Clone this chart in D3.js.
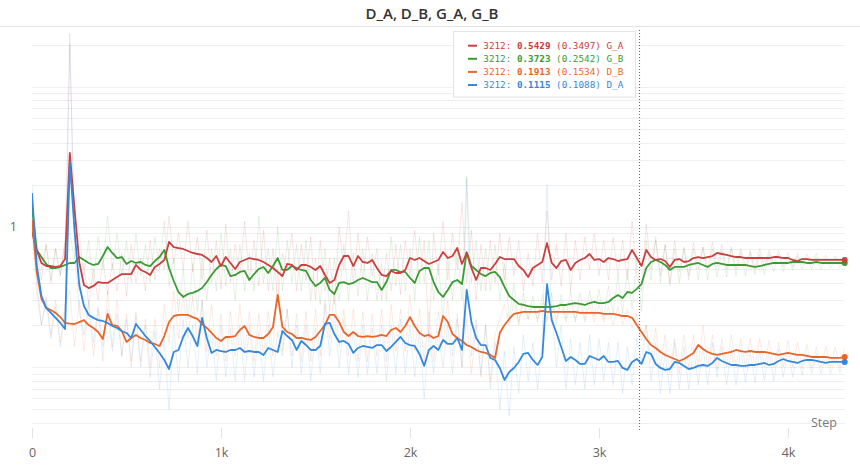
<!DOCTYPE html>
<html><head><meta charset="utf-8">
<script src="https://cdn.jsdelivr.net/npm/d3@7"></script>
<style>
html,body{margin:0;padding:0;background:#fff;}
svg{display:block;}
</style></head>
<body>
<svg id="chart" width="860" height="467"></svg>
<script>
// ---------- DATA ----------
const title = "D_A, D_B, G_A, G_B";
const seriesNames = ["G_A", "G_B", "D_B", "D_A"];
const seriesColors = ["#c9403e", "#3a9a34", "#e8662a", "#3489dc"];
const hoverStep = 3212;
const hoverSmooth = ["0.5429", "0.3723", "0.1913", "0.1115"];
const hoverRaw = ["0.3497", "0.2542", "0.1534", "0.1088"];
const xTickValues = [0, 1000, 2000, 3000, 4000];
const xTickLabels = ["0", "1k", "2k", "3k", "4k"];
const yTickValues = [1];
const yTickLabels = ["1"];
const yGridValues = [0.04,0.05,0.06,0.07,0.08,0.09,0.1,0.2,0.3,0.4,0.5,0.6,0.7,0.8,0.9,1,2,3,4,5,6,7,8,9,10,20];

// one value every 25 steps (0 .. 4300)
const steps = d3.range(0, 4301, 25);

// smoothed series
const gA_smooth = [
0.921,0.686,0.554,0.527,0.527,0.519,0.527,0.591,3.37,1.35,
0.563,0.386,0.367,0.380,0.405,0.399,0.399,0.419,0.440,0.462,
0.462,0.462,0.536,0.494,0.478,0.455,0.519,0.545,0.582,0.782,
0.720,0.708,0.697,0.674,0.653,0.642,0.632,0.601,0.563,0.621,
0.527,0.611,0.554,0.502,0.563,0.582,0.601,0.591,0.582,0.563,
0.536,0.510,0.478,0.447,0.545,0.536,0.494,0.536,0.536,0.519,
0.494,0.527,0.455,0.399,0.419,0.536,0.621,0.621,0.527,0.621,
0.563,0.554,0.582,0.510,0.455,0.447,0.486,0.470,0.470,0.494,
0.601,0.582,0.601,0.572,0.545,0.563,0.582,0.663,0.601,0.621,
0.708,0.545,0.653,0.510,0.419,0.510,0.510,0.494,0.545,0.611,
0.591,0.591,0.591,0.527,0.494,0.440,0.510,0.536,0.563,0.769,
0.554,0.510,0.572,0.582,0.494,0.554,0.582,0.601,0.642,0.582,
0.591,0.563,0.601,0.591,0.572,0.582,0.591,0.686,0.601,0.527,
0.686,0.611,0.582,0.591,0.572,0.519,0.582,0.591,0.563,0.572,
0.601,0.611,0.601,0.611,0.621,0.653,0.642,0.632,0.621,0.611,
0.611,0.601,0.601,0.601,0.601,0.601,0.601,0.611,0.611,0.601,
0.601,0.582,0.572,0.591,0.591,0.582,0.582,0.582,0.582,0.582,
0.582,0.582,0.582];
const gB_smooth = [
1.389,0.686,0.611,0.545,0.510,0.510,0.519,0.536,0.554,0.554,
0.611,0.582,0.554,0.536,0.545,0.621,0.720,0.653,0.601,0.611,
0.545,0.572,0.554,0.563,0.536,0.527,0.572,0.611,0.686,0.510,
0.412,0.344,0.317,0.333,0.339,0.350,0.367,0.405,0.455,0.502,
0.536,0.527,0.447,0.455,0.478,0.486,0.419,0.462,0.502,0.519,
0.470,0.527,0.601,0.494,0.494,0.527,0.510,0.494,0.486,0.419,
0.380,0.399,0.433,0.356,0.333,0.399,0.405,0.392,0.399,0.419,
0.433,0.419,0.405,0.405,0.356,0.405,0.494,0.494,0.478,0.478,
0.433,0.399,0.486,0.510,0.510,0.405,0.344,0.317,0.356,0.405,
0.419,0.392,0.663,0.527,0.494,0.462,0.447,0.470,0.478,0.440,
0.374,0.322,0.302,0.283,0.278,0.273,0.269,0.269,0.269,0.269,
0.269,0.273,0.278,0.278,0.283,0.287,0.283,0.278,0.287,0.292,
0.287,0.287,0.292,0.312,0.328,0.312,0.344,0.339,0.362,0.392,
0.510,0.563,0.582,0.563,0.536,0.494,0.519,0.519,0.519,0.536,
0.545,0.554,0.536,0.519,0.545,0.554,0.545,0.536,0.536,0.536,
0.536,0.536,0.527,0.519,0.527,0.536,0.545,0.554,0.554,0.554,
0.554,0.563,0.563,0.563,0.554,0.554,0.563,0.554,0.554,0.554,
0.554,0.554,0.554];
const dB_smooth = [
1.122,0.478,0.307,0.265,0.256,0.244,0.228,0.207,0.205,0.2035,
0.210,0.217,0.200,0.1906,0.1785,0.159,0.240,0.200,0.197,0.1814,
0.1515,0.1617,0.170,0.1617,0.1565,0.149,0.1466,0.1418,0.167,0.210,
0.232,0.236,0.236,0.236,0.228,0.221,0.2035,0.1906,0.1756,0.1617,
0.154,0.1644,0.1644,0.167,0.1845,0.197,0.170,0.1644,0.1617,0.1617,
0.1727,0.194,0.328,0.194,0.1785,0.1727,0.1617,0.1617,0.159,0.1565,
0.1644,0.1814,0.200,0.236,0.236,0.210,0.1785,0.167,0.1785,0.167,
0.1644,0.167,0.1644,0.167,0.170,0.167,0.1845,0.1906,0.1785,0.197,
0.228,0.197,0.1756,0.167,0.170,0.1617,0.167,0.232,0.210,0.1727,
0.1617,0.154,0.144,0.1395,0.1328,0.1285,0.1265,0.1224,0.1165,0.1756,
0.200,0.221,0.240,0.244,0.248,0.248,0.248,0.248,0.252,0.248,
0.248,0.248,0.248,0.248,0.248,0.248,0.244,0.244,0.244,0.244,
0.244,0.240,0.240,0.240,0.236,0.232,0.232,0.225,0.200,0.1785,
0.159,0.144,0.1373,0.1285,0.1224,0.1184,0.1146,0.1109,0.1146,0.1204,
0.1265,0.144,0.135,0.1285,0.1245,0.1224,0.1245,0.1265,0.1285,0.1328,
0.1306,0.1285,0.1306,0.1285,0.1285,0.1285,0.1265,0.1245,0.1224,0.1245,
0.1265,0.1245,0.1224,0.1224,0.1204,0.1184,0.1184,0.1184,0.1184,0.1165,
0.1165,0.1165,0.1184];
const dA_smooth = [
1.747,0.536,0.322,0.265,0.244,0.225,0.207,0.1875,2.906,0.95,
0.386,0.2735,0.236,0.225,0.217,0.2138,0.207,0.197,0.1906,0.1814,
0.1756,0.1617,0.2035,0.1845,0.167,0.154,0.1395,0.1265,0.1127,0.0972,
0.1285,0.1328,0.1644,0.1906,0.167,0.1418,0.225,0.1617,0.1265,0.1328,
0.1306,0.1285,0.1328,0.1328,0.1373,0.1285,0.1306,0.1285,0.1285,0.1224,
0.1373,0.1328,0.1285,0.1814,0.167,0.1565,0.1328,0.154,0.144,0.1328,
0.1328,0.1418,0.2035,0.207,0.1727,0.1515,0.154,0.1466,0.1265,0.1373,
0.1418,0.1395,0.1373,0.144,0.144,0.1306,0.1395,0.1515,0.1644,0.149,
0.144,0.1418,0.1245,0.1022,0.1328,0.1418,0.1328,0.1565,0.1466,0.1466,
0.1617,0.1328,0.356,0.210,0.1617,0.144,0.144,0.1165,0.1127,0.0989,
0.0812,0.0926,0.0989,0.1091,0.1245,0.1265,0.1127,0.1038,0.1184,0.392,
0.217,0.1756,0.1395,0.1109,0.1184,0.1127,0.1056,0.1056,0.1204,0.1165,
0.1127,0.1204,0.1091,0.1091,0.1109,0.0989,0.0957,0.1091,0.1146,0.1056,
0.1285,0.1245,0.1056,0.0989,0.0957,0.0972,0.1091,0.1073,0.1022,0.0972,
0.0989,0.1022,0.1038,0.1022,0.1073,0.1165,0.1109,0.1073,0.1038,0.1038,
0.1022,0.1022,0.1038,0.1038,0.1056,0.1073,0.1038,0.1056,0.1109,0.1146,
0.1109,0.1091,0.1073,0.1109,0.1127,0.1127,0.1109,0.1091,0.1073,0.1091,
0.1091,0.1091,0.1091];

// raw (unsmoothed) series
const gA_raw = [
1.3,0.7,0.42,0.75,0.4,0.7,0.45,0.8,20,0.9,
0.35,0.55,0.28,0.5,0.3,0.6,0.33,0.55,0.35,0.65,
0.32,0.75,0.4,0.6,0.35,0.8,0.42,0.7,0.5,1.2,
0.55,0.9,0.5,1.1,0.48,0.85,0.42,0.95,0.4,0.8,
0.36,1.05,0.4,0.75,0.45,1.1,0.42,0.8,0.38,0.95,
0.35,0.7,0.3,0.65,0.5,0.9,0.35,0.75,0.42,0.85,
0.3,0.8,0.35,0.6,0.28,1.0,0.5,1.3,0.4,0.9,
0.42,0.85,0.45,0.7,0.3,0.65,0.35,0.75,0.33,0.8,
0.45,0.95,0.4,0.8,0.16,0.9,0.45,1.1,0.42,0.9,
0.5,1.5,0.4,0.95,0.3,0.75,0.35,0.8,0.4,0.9,
0.42,0.85,0.45,0.8,0.35,0.65,0.38,0.9,0.4,1.3,
0.42,0.75,0.38,0.9,0.35,0.8,0.42,0.85,0.5,0.9,
0.45,0.8,0.42,0.85,0.45,0.8,0.42,1.1,0.45,0.35,
1.05,0.5,0.8,0.45,0.75,0.4,0.8,0.48,0.7,0.45,
0.78,0.5,0.72,0.5,0.78,0.52,0.75,0.5,0.72,0.5,
0.7,0.52,0.68,0.5,0.7,0.52,0.68,0.54,0.68,0.52,
0.66,0.52,0.65,0.54,0.64,0.54,0.65,0.55,0.63,0.55,
0.62,0.56,0.6];
const gB_raw = [
1.5,0.8,0.5,0.75,0.42,0.7,0.45,0.8,0.9,0.6,
0.9,0.45,0.8,0.4,0.85,0.5,1.2,0.5,0.9,0.45,
0.8,0.4,0.9,0.45,0.75,0.4,0.85,0.5,1.1,0.38,
0.6,0.25,0.5,0.22,0.55,0.25,0.6,0.3,0.7,0.35,
0.9,0.38,0.7,0.3,0.75,0.35,0.65,0.35,1.2,0.4,
0.7,0.35,1.0,0.35,0.8,0.4,0.75,0.35,0.8,0.3,
0.6,0.28,0.7,0.25,0.6,0.3,0.75,0.3,0.65,0.32,
0.7,0.3,0.65,0.3,0.55,0.3,0.85,0.38,0.75,0.35,
0.7,0.3,0.85,0.4,0.8,0.3,0.55,0.22,0.6,0.3,
0.7,0.3,2.3,0.4,0.8,0.35,0.7,0.35,0.75,0.3,
0.55,0.22,0.4,0.2,0.34,0.22,0.32,0.21,0.33,0.22,
0.34,0.2,0.33,0.22,0.35,0.21,0.34,0.22,0.35,0.23,
0.36,0.22,0.38,0.24,0.45,0.24,0.5,0.26,0.6,0.25,
0.8,0.42,0.85,0.4,0.75,0.38,0.7,0.4,0.72,0.42,
0.7,0.42,0.72,0.42,0.7,0.44,0.68,0.44,0.7,0.45,
0.66,0.45,0.66,0.46,0.64,0.46,0.64,0.48,0.64,0.48,
0.62,0.49,0.62,0.5,0.61,0.5,0.61,0.5,0.6,0.51,
0.6,0.51,0.58];
const dB_raw = [
1.0,0.35,0.2,0.32,0.17,0.3,0.15,0.28,0.35,0.14,
0.3,0.13,0.28,0.12,0.26,0.11,0.35,0.14,0.3,0.12,
0.24,0.1,0.25,0.11,0.22,0.1,0.22,0.1,0.28,0.15,
0.35,0.16,0.34,0.16,0.32,0.15,0.3,0.13,0.28,0.12,
0.24,0.11,0.25,0.12,0.28,0.13,0.25,0.11,0.24,0.12,
0.25,0.12,0.5,0.13,0.26,0.12,0.24,0.11,0.25,0.11,
0.26,0.12,0.3,0.16,0.35,0.14,0.26,0.12,0.26,0.11,
0.25,0.11,0.24,0.12,0.26,0.11,0.28,0.13,0.26,0.13,
0.33,0.13,0.26,0.11,0.25,0.11,0.25,0.15,0.3,0.12,
0.24,0.1,0.22,0.09,0.2,0.085,0.2,0.08,0.17,0.22,
0.28,0.2,0.3,0.21,0.29,0.22,0.28,0.22,0.29,0.21,
0.28,0.22,0.29,0.21,0.28,0.22,0.28,0.21,0.28,0.21,
0.28,0.21,0.27,0.2,0.27,0.2,0.26,0.19,0.24,0.155,
0.2,0.11,0.19,0.1,0.17,0.09,0.16,0.09,0.17,0.1,
0.17,0.1,0.2,0.1,0.17,0.095,0.16,0.1,0.17,0.1,
0.16,0.1,0.16,0.1,0.16,0.1,0.155,0.1,0.15,0.1,
0.155,0.1,0.15,0.098,0.145,0.098,0.14,0.1,0.14,0.1,
0.14,0.1,0.135];
const dA_raw = [
2.0,0.4,0.2,0.3,0.16,0.27,0.14,0.25,24,0.7,
0.25,0.17,0.3,0.15,0.27,0.14,0.26,0.13,0.24,0.12,
0.22,0.11,0.23,0.1,0.2,0.085,0.18,0.07,0.16,0.05,
0.2,0.08,0.22,0.1,0.2,0.09,0.3,0.1,0.19,0.08,
0.2,0.085,0.19,0.08,0.2,0.08,0.2,0.085,0.18,0.08,
0.2,0.085,0.18,0.12,0.26,0.1,0.2,0.09,0.2,0.08,
0.19,0.09,0.28,0.12,0.24,0.1,0.22,0.09,0.18,0.085,
0.2,0.09,0.19,0.09,0.2,0.08,0.2,0.09,0.22,0.09,
0.2,0.085,0.18,0.06,0.18,0.09,0.18,0.1,0.2,0.09,
0.22,0.1,2.2,0.12,0.22,0.09,0.2,0.07,0.15,0.05,
0.13,0.045,0.14,0.065,0.17,0.08,0.15,0.07,0.16,2.0,
0.25,0.1,0.2,0.07,0.16,0.075,0.15,0.07,0.17,0.075,
0.16,0.08,0.15,0.075,0.15,0.065,0.14,0.075,0.16,0.109,
0.2,0.08,0.15,0.065,0.13,0.065,0.15,0.07,0.14,0.07,
0.14,0.075,0.14,0.075,0.15,0.085,0.14,0.075,0.135,0.075,
0.135,0.078,0.13,0.078,0.13,0.08,0.13,0.08,0.135,0.085,
0.13,0.085,0.125,0.088,0.125,0.09,0.125,0.09,0.12,0.09,
0.12,0.092,0.115];

const smoothSeries = [gA_smooth, gB_smooth, dB_smooth, dA_smooth];
const rawSeries = [gA_raw, gB_raw, dB_raw, dA_raw];

// ---------- CHART ----------
const W = 860, H = 467;
const plot = {left: 32, right: 844.7, top: 26, bottom: 428};
const svg = d3.select("#chart");
svg.append("rect").attr("width", W).attr("height", H).attr("fill", "#fff");

const x = d3.scaleLinear().domain([0, 4300]).range([plot.left, plot.right]);
const y = d3.scaleLog().domain([0.0369, 27.1]).range([plot.bottom, plot.top]);

// title + header rule
svg.append("text").attr("x", 432).attr("y", 18.5).attr("text-anchor", "middle")
  .attr("font-family", "'Open Sans', sans-serif").attr("font-weight", 600)
  .attr("font-size", 15).attr("fill", "#333").text(title);
svg.append("line").attr("x1", 0).attr("x2", W).attr("y1", 26.5).attr("y2", 26.5)
  .attr("stroke", "#e4e4e4").attr("stroke-width", 1);

// grid
svg.append("g").selectAll("line").data(yGridValues).join("line")
  .attr("x1", plot.left).attr("x2", 845)
  .attr("y1", d => Math.round(y(d)) + 0.5).attr("y2", d => Math.round(y(d)) + 0.5)
  .attr("stroke", "#efefef").attr("stroke-width", 1);

// x axis
const xAxis = svg.append("g").attr("transform", `translate(0,${plot.bottom})`)
  .call(d3.axisBottom(x).tickValues(xTickValues)
    .tickFormat((d, i) => xTickLabels[i]).tickSize(10).tickPadding(10));
xAxis.select(".domain").remove();
xAxis.selectAll(".tick line").attr("stroke", "#e2e2e2");
xAxis.selectAll(".tick text").attr("fill", "#666").attr("font-size", 12.5)
  .attr("font-family", "'Open Sans', sans-serif");

// y axis
const yAxis = svg.append("g").attr("transform", `translate(${plot.left},0)`)
  .call(d3.axisLeft(y).tickValues(yTickValues)
    .tickFormat((d, i) => yTickLabels[i]).tickSize(0).tickPadding(15));
yAxis.select(".domain").remove();
yAxis.selectAll(".tick text").attr("fill", "#666").attr("font-size", 12.5)
  .attr("font-family", "'Open Sans', sans-serif");

// axis title
svg.append("text").attr("x", 837).attr("y", 427).attr("text-anchor", "end")
  .attr("font-family", "'Open Sans', sans-serif").attr("font-size", 12.5)
  .attr("fill", "#777").text("Step");

// clip
svg.append("clipPath").attr("id", "clip").append("rect")
  .attr("x", plot.left).attr("y", plot.top).attr("width", 815).attr("height", plot.bottom - plot.top);

const lines = svg.append("g").attr("clip-path", "url(#clip)");
const drawOrder = [1, 0, 2, 3];
const line = d3.line().x((d, i) => x(steps[i])).y(d => y(d));

// raw
drawOrder.forEach(k => {
  lines.append("path").datum(rawSeries[k]).attr("d", line)
    .attr("fill", "none").attr("stroke", seriesColors[k])
    .attr("stroke-opacity", 0.13).attr("stroke-width", 1);
});
// smoothed
drawOrder.forEach(k => {
  lines.append("path").datum(smoothSeries[k]).attr("d", line)
    .attr("fill", "none").attr("stroke", seriesColors[k])
    .attr("stroke-width", 1.8).attr("stroke-linejoin", "round");
});
// end dots
drawOrder.forEach(k => {
  const s = smoothSeries[k];
  svg.append("circle").attr("cx", x(steps[s.length - 1])).attr("cy", y(s[s.length - 1]))
    .attr("r", 3).attr("fill", seriesColors[k]);
});

// hover line
svg.append("line").attr("x1", x(hoverStep) + 0.5).attr("x2", x(hoverStep) + 0.5)
  .attr("y1", 30).attr("y2", 432).attr("stroke", "#3b62b8")
  .attr("stroke-width", 1).attr("stroke-dasharray", "1,2");

// legend
const lg = svg.append("g");
lg.append("rect").attr("x", 453.5).attr("y", 31.5).attr("width", 182).attr("height", 65.5)
  .attr("fill", "#fff").attr("fill-opacity", 0.92).attr("stroke", "#e4e4e4");
seriesNames.forEach((name, k) => {
  const cy = 45.7 + k * 13.1;
  lg.append("line").attr("x1", 468).attr("x2", 477).attr("y1", cy).attr("y2", cy)
    .attr("stroke", seriesColors[k]).attr("stroke-width", 2);
  const t = lg.append("text").attr("x", 483.3).attr("y", cy + 3.3)
    .attr("font-family", "'DejaVu Sans Mono', monospace").attr("font-size", 9.3)
    .attr("fill", seriesColors[k]).attr("xml:space", "preserve");
  t.append("tspan").text(hoverStep + ": ");
  t.append("tspan").attr("font-weight", "bold").text(hoverSmooth[k]);
  t.append("tspan").text(" (" + hoverRaw[k] + ") " + name);
});
</script>
</body></html>
